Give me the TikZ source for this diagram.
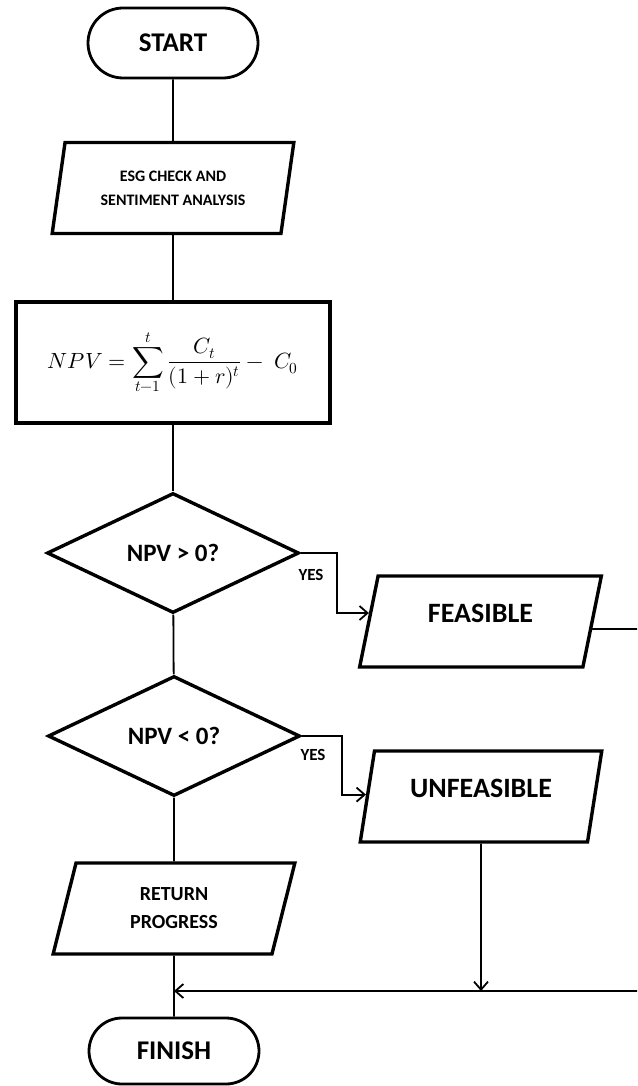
\documentclass[tikz,border=0pt]{standalone}
\usepackage{fontspec}
\usepackage{unicode-math}
\setmainfont{Carlito}
\setmathfont{Latin Modern Math}
\usetikzlibrary{shapes.geometric,shapes.misc,arrows.meta,calc}

\tikzset{
  termbox/.style={draw, rounded rectangle, line width=2.8pt, minimum width=170pt, minimum height=70pt, inner sep=0pt, font=\bfseries\fontsize{27}{30}\selectfont},
  iobox/.style={draw, trapezium, trapezium left angle=76, trapezium right angle=104, trapezium stretches=true, line width=3.4pt, minimum width=242pt, minimum height=91pt, inner sep=0pt, align=center},
  bigtext/.style={font=\bfseries\fontsize{28}{30}\selectfont, text height=20pt, text depth=18pt},
  calcbox/.style={draw, rectangle, line width=3.6pt, minimum width=314pt, minimum height=121pt, inner sep=0pt},
  checkbox/.style={draw, diamond, line width=3.4pt, minimum width=252pt, minimum height=120pt, inner sep=0pt, font=\bfseries\fontsize{25}{28}\selectfont},
  arrowline/.style={line width=1.8pt},
  arrowtip/.style={-{Straight Barb[length=8pt,width=14pt,line width=1.8pt]}},
  yeslabel/.style={font=\bfseries\fontsize{17}{19}\selectfont, inner sep=0pt}
}

\begin{document}
\begin{tikzpicture}[x=1pt,y=-1pt]
  %%%%% START %%%%%
  \useasboundingbox (0,0) rectangle (637,1086);
  \clip (0,0) rectangle (637,1086);

  \node[termbox] (start) at (173,43) {START};
  \node[iobox, font=\bfseries\fontsize{16}{24}\selectfont] (esg) at (173,188) {ESG CHECK AND\\SENTIMENT ANALYSIS};
  \node[calcbox] (npv) at (173,362.5) {\fontsize{22}{26}\selectfont$\displaystyle NPV=\sum_{t-1}^{t}\frac{C_t}{(1+r)^t}-\;C_0$};
  \node[checkbox] (gt) at (173,553) {NPV > 0?};
  \node[checkbox] (lt) at (174,736) {NPV < 0?};
  \node[iobox, bigtext] (feas) at (480.5,621.5) {FEASIBLE};
  \node[iobox, bigtext] (unfeas) at (481,796.5) {UNFEASIBLE};
  \node[iobox, font=\bfseries\fontsize{20}{28}\selectfont] (ret) at (174,908.5) {RETURN\\PROGRESS};
  \node[termbox, minimum height=66pt] (fin) at (174,1051) {FINISH};

  \node[yeslabel] (yes1) at (311,575) {YES};
  \node[yeslabel] (yes2) at (313,755) {YES};

  \coordinate (feasin) at ($(feas.bottom left corner)!.59!(feas.top left corner)$);
  \coordinate (feasout) at ($(feas.bottom right corner)!.42!(feas.top right corner)$);
  \coordinate (unfeasin) at ($(unfeas.bottom left corner)!.52!(unfeas.top left corner)$);
  \coordinate (join) at (174,991);
  \coordinate (rim) at (660,991);

  \draw[arrowline] (start) -- (esg);
  \draw[arrowline] (esg) -- (npv);
  \draw[arrowline] (npv) -- (gt);
  \draw[arrowline] (gt) -- (lt);
  \draw[arrowline] (lt) -- (ret);
  \draw[arrowline] (ret) -- (fin);

  \draw[arrowline, arrowtip] (gt.east) -- ++(36,0) |- (feasin);
  \draw[arrowline, arrowtip] (lt.east) -- ++(40,0) |- (unfeasin);
  \draw[arrowline, arrowtip] (feasout) -| (rim) -- (join);
  \draw[arrowline, arrowtip] (unfeas) -- (unfeas |- join);
  %%%%% END %%%%%
\end{tikzpicture}
\end{document}
